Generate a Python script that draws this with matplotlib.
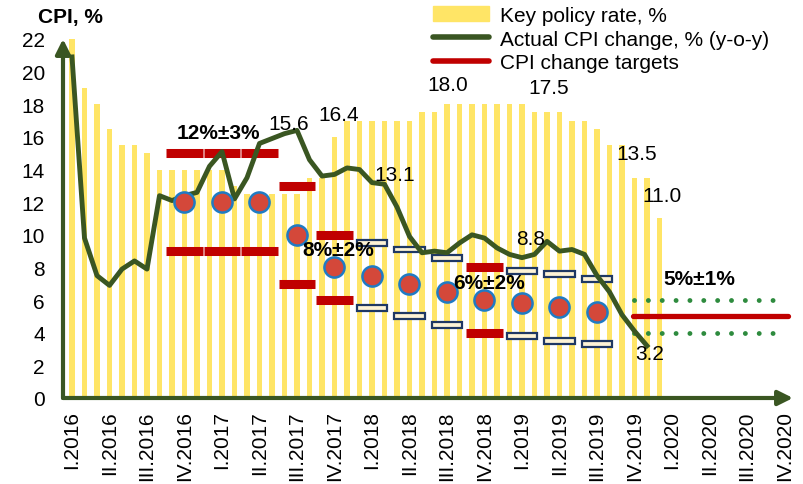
import matplotlib
matplotlib.use('Agg')
import matplotlib.pyplot as plt
from matplotlib.patches import Patch
from matplotlib.lines import Line2D

plt.rcParams['font.family'] = ['Liberation Sans', 'DejaVu Sans']

# key policy rate, monthly bars
key_rate = [22, 19, 18, 16.5, 15.5, 15.5, 15, 14, 14, 14, 14, 14, 14, 13,
            12.5, 12.5, 12.5, 12.5, 12.5, 13.5, 13.5, 16, 17, 17, 17, 17, 17, 17,
            17.5, 17.5, 18, 18, 18, 18, 18, 18, 18, 17.5, 17.5, 17.5, 17, 17,
            16.5, 15.5, 15.5, 13.5, 13.5, 11.0]

# actual CPI y-o-y, monthly line
cpi = [20.9, 9.8, 7.5, 6.9, 7.9, 8.4, 7.9, 12.4, 12.1, 12.4, 12.6, 14.2,
       15.1, 12.2, 13.5, 15.6, 15.9, 16.2, 16.4, 14.6, 13.6, 13.7, 14.1, 14.0,
       13.2, 13.1, 11.7, 9.9, 8.9, 9.0, 8.9, 9.5, 10.0, 9.8, 9.2, 8.8,
       8.6, 8.8, 9.6, 9.0, 9.1, 8.8, 7.5, 6.5, 5.1, 4.1, 3.2]

# quarterly forecasts (circles)
fc_pos = [9, 12, 15, 18, 21, 24, 27, 30, 33, 36, 39, 42]
fc_val = [12, 12, 12, 10, 8, 7.5, 7, 6.5, 6, 5.8, 5.6, 5.3]

# target corridor bounds (red dashes)
tgt_pos = [9, 12, 15, 18, 21, 33]
tgt_hi = [15, 15, 15, 13, 10, 8]
tgt_lo = [9, 9, 9, 7, 6, 4]

# forecast corridor bounds (white boxes)
box_pos = [24, 27, 30, 36, 39, 42]
box_hi = [9.5, 9.1, 8.6, 7.8, 7.6, 7.3]
box_lo = [5.5, 5.0, 4.5, 3.8, 3.5, 3.3]

# long-term target 5% +-1%
lt_start, lt_end = 44.9, 57.3
lt_target, lt_hi, lt_lo = 5, 6, 4

quarters = ['I', 'II', 'III', 'IV']
years = [2016, 2017, 2018, 2019, 2020]
tick_labels = [f'{q}.{y}' for y in years for q in quarters]
tick_pos = list(range(0, 3 * len(tick_labels), 3))

value_labels = [('15.6', 17.3, 16.8), ('16.4', 21.3, 17.4), ('13.1', 25.8, 13.7),
                ('18.0', 30.1, 19.2), ('17.5', 38.1, 19.0), ('8.8', 36.7, 9.8),
                ('13.5', 45.2, 15.0), ('11.0', 47.2, 12.4), ('3.2', 46.2, 2.7)]
band_labels = [('12%±3%', 11.7, 16.3), ('8%±2%', 21.3, 9.1),
               ('6%±2%', 33.4, 7.1), ('5%±1%', 50.2, 7.3)]

GREEN = '#3a5622'
YELLOW = '#ffe566'
RED = '#c00000'
FS = 15

fig = plt.figure(figsize=(8.04, 4.85), dpi=100)
ax = fig.add_axes([63 / 804, 86 / 485, 730 / 804, 359 / 485])

ax.bar(range(len(key_rate)), key_rate, width=0.42, color=YELLOW, zorder=1)
ax.plot(range(len(cpi)), cpi, color=GREEN, lw=3.5, zorder=3, solid_joinstyle='round')

ax.hlines(tgt_hi, [p - 1.45 for p in tgt_pos], [p + 1.45 for p in tgt_pos],
          color=RED, lw=6.5, zorder=2)
ax.hlines(tgt_lo, [p - 1.45 for p in tgt_pos], [p + 1.45 for p in tgt_pos],
          color=RED, lw=6.5, zorder=2)

ax.bar(box_pos, 0.36, width=2.45, bottom=[v - 0.18 for v in box_hi],
       color='#fdf3d6', edgecolor='#1f3864', lw=1.6, zorder=2)
ax.bar(box_pos, 0.36, width=2.45, bottom=[v - 0.18 for v in box_lo],
       color='#fdf3d6', edgecolor='#1f3864', lw=1.6, zorder=2)

ax.plot(fc_pos, fc_val, ls='none', marker='o', ms=14.5, mfc='#d4483a',
        mec='#1f7bc4', mew=1.8, zorder=4)

ax.plot([lt_start, lt_end], [lt_target, lt_target], color=RED, lw=3.8,
        solid_capstyle='round', zorder=2)
for lvl in (lt_hi, lt_lo):
    ax.plot([lt_start + 0.1, lt_end - 1.2], [lvl, lvl], color='#2e8b3e', lw=3.5,
            ls=(0, (0.01, 2.84)), dash_capstyle='round', zorder=2)

for txt, x, y in value_labels:
    ax.text(x, y, txt, ha='center', va='center', fontsize=FS, zorder=5)
for txt, x, y in band_labels:
    ax.text(x, y, txt, ha='center', va='center', fontsize=FS,
            fontweight='bold', zorder=5)

ax.set_xlim(-0.72, 57.68)
ax.set_ylim(0, 22)
ax.set_yticks(range(0, 23, 2))
ax.set_xticks(tick_pos)
ax.set_xticklabels(tick_labels, rotation=90)
ax.tick_params(axis='y', length=0, pad=13, labelsize=FS)
ax.tick_params(axis='x', length=0, pad=9, labelsize=FS)
for s in ax.spines.values():
    s.set_visible(False)

arrow = dict(arrowstyle='-|>', color=GREEN, lw=3, mutation_scale=22,
             shrinkA=0, shrinkB=0)
ax.annotate('', xy=(0, 1), xytext=(0, 0), xycoords='axes fraction',
            arrowprops=arrow, annotation_clip=False, zorder=6)
ax.annotate('', xy=(1, 0), xytext=(0, 0), xycoords='axes fraction',
            arrowprops=arrow, annotation_clip=False, zorder=6)

fig.text(70 / 804, 1 - 18 / 485, 'CPI, %', ha='center', va='center',
         fontsize=FS, fontweight='bold')

handles = [Patch(color=YELLOW),
           Line2D([], [], color=GREEN, lw=4, solid_capstyle='round'),
           Line2D([], [], color=RED, lw=4, solid_capstyle='round')]
labels = ['Key policy rate, %', 'Actual CPI change, % (y-o-y)', 'CPI change targets']
fig.legend(handles, labels, loc='upper left', bbox_to_anchor=(433 / 804, 1 - 7 / 485),
           frameon=False, fontsize=FS, handlelength=2.7, handletextpad=0.5,
           labelspacing=0.22, borderpad=0, borderaxespad=0)

fig.savefig('out.png', dpi=100)
